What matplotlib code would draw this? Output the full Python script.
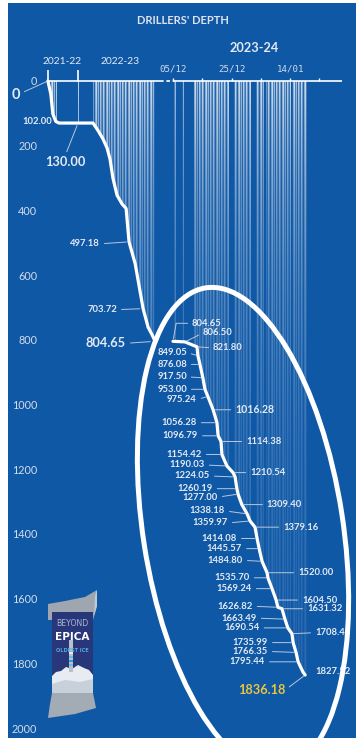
import numpy as np
import matplotlib
matplotlib.use("Agg")
import matplotlib.pyplot as plt
from matplotlib.patches import Ellipse, Polygon, Rectangle, PathPatch
from matplotlib.path import Path

# ---------------- data ----------------
season_names = ["2021-22", "2022-23", "2023-24"]
# where each season begins on the shared (compressed) timeline, in days
season_start = [-42.7, -32.4, 0.0]

days_2122 = [0.0, 1.0, 1.7, 2.7, 3.8]
depth_2122 = [0.0, 40.0, 102.00, 125.0, 130.00]

days_2223 = [0.0, 5.1, 6.8, 8.5, 9.9, 10.9, 11.9, 13.3, 15.0, 16.4,
             17.4, 19.5, 22.2, 23.9, 25.3, 26.3]
depth_2223 = [130.00, 130.0, 153.0, 179.0, 207.0, 241.0, 300.0, 353.0, 380.0, 394.0,
              497.18, 565.0, 703.72, 761.0, 785.0, 804.65]

days_2324 = [0.0, 4.1, 8.2, 8.5, 9.2, 10.2, 10.9, 11.9, 13.7, 15.0,
             15.4, 16.4, 16.7, 18.4, 20.5, 21.2, 21.8, 22.2, 23.5, 25.3,
             26.3, 28.0, 28.7, 29.4, 30.4, 32.1, 32.4, 33.8, 35.2, 35.8,
             37.2, 38.2, 39.2, 40.6, 41.0, 42.0, 42.7, 44.4, 45.1]
depth_2324 = [804.65, 806.50, 821.80, 849.05, 876.08, 917.50, 953.00, 975.24, 1016.28, 1056.28,
              1096.79, 1114.38, 1154.42, 1190.03, 1210.54, 1224.05, 1260.19, 1277.00, 1309.40, 1338.18,
              1359.97, 1379.16, 1414.08, 1445.57, 1484.80, 1520.00, 1535.70, 1569.24, 1604.50, 1626.82,
              1631.32, 1663.49, 1690.54, 1708.48, 1735.99, 1766.35, 1795.44, 1827.52, 1836.18]

# days with drilling runs (season-relative), drawn as thin run lines
runs_2122 = [(0.7, 3.1)]
runs_2223 = [(-0.1, 0.2), (5.1, 26.3)]
runs_2324 = [(0.3, 1.0), (3.1, 3.8), (7.2, 19.1), (20.8, 26.6),
             (28.3, 31.1), (31.7, 40.3), (40.6, 45.7)]

date_ticks = [0, 20, 40]
date_labels = ["05/12", "25/12", "14/01"]
date_minor = [10, 30, 50]
depth_ticks = list(range(0, 2001, 200))

# ---------------- style ----------------
BG = "#0f58a6"
TXT = "#e4eaf3"
LEAD = "#b9c7dd"
GOLD = "#e8c53c"
PX = 0.72  # points per pixel at 100 dpi
FONT = "Lato"

fig = plt.figure(figsize=(3.56, 7.38), dpi=100)
fig.patch.set_facecolor("white")
ax = fig.add_axes([8 / 356, 0, 348 / 356, 735 / 738])
ax.set_facecolor(BG)

x0, x1 = -56.31, 62.46
d_top, d_bot = -241.1, 2030.9
ax.set_xlim(x0, x1)
ax.set_ylim(d_bot, d_top)

for s in ax.spines.values():
    s.set_visible(False)

# depth axis: labels drawn inside the panel
ax.set_yticks(depth_ticks)
ax.set_yticklabels([str(v) for v in depth_ticks], fontfamily=FONT)
ax.tick_params(axis="y", length=0, pad=-21, labelsize=7.8, labelcolor="#d3dcea")

# date axis sits on the surface line
ax.xaxis.set_ticks_position("top")
ax.spines["top"].set_position(("data", 0))
ax.set_xticks(date_ticks)
ax.set_xticklabels(date_labels, fontfamily="DejaVu Sans Mono")
ax.set_xticks(date_minor, minor=True)
ax.tick_params(axis="x", which="both", direction="out", length=2.5, width=1.0,
               color="white", pad=3, labelsize=6.6, labelcolor="#d3dcea")

# ---------------- timeline ----------------
x_2122 = [season_start[0] + d for d in days_2122]
x_2223 = [season_start[1] + d for d in days_2223]
x_2324 = [season_start[2] + d for d in days_2324]

ax.hlines(0, x_2122[0], x_2223[-1] + 1.7, color="white", lw=1.2, zorder=4)
ax.plot([x_2223[-1] + 1.8, season_start[2]], [0, 0], color="white", lw=1.2,
        ls=(0, (2.2, 1.6)), zorder=4)
ax.hlines(0, season_start[2], 57.7, color="white", lw=1.2, zorder=4)
ax.vlines(season_start[:2], -34, 2, color="white", lw=1.2, zorder=4)

# ---------------- run lines (stripes under the curve) ----------------
ncol, nrow = 348, 735
xc = x0 + (np.arange(ncol) + 0.5) * (x1 - x0) / ncol
dc = d_top + (np.arange(nrow) + 0.5) * (d_bot - d_top) / nrow
mask = np.zeros(ncol)
for start, spans in zip(season_start, [runs_2122, runs_2223, runs_2324]):
    for a, b in spans:
        mask[(xc >= start + a) & (xc <= start + b)] = 1.0
weave = np.array([1.0, 0.35, 0.75, 0.15, 0.9, 0.5, 0.25, 0.95, 0.55, 0.1, 0.7])
col_alpha = mask * weave[np.arange(ncol) % len(weave)]
fade = 0.08 + 0.72 * np.exp(-np.clip(dc, 0, None) / 550.0)
rgba = np.ones((nrow, ncol, 4))
rgba[..., 3] = np.outer(fade, col_alpha)
im = ax.imshow(rgba, extent=(x0, x1, d_bot, d_top), origin="upper",
               interpolation="nearest", aspect="auto", zorder=1)

early_x = x_2122 + x_2223
early_d = depth_2122 + depth_2223
vA = [(early_x[0], 0)] + list(zip(early_x, early_d)) + [(early_x[-1], 0), (early_x[0], 0)]
vB = [(x_2324[0], 0)] + list(zip(x_2324, depth_2324)) + [(x_2324[-1] + 0.6, depth_2324[-1]),
                                                        (x_2324[-1] + 0.6, 0), (x_2324[0], 0)]
clip = PathPatch(Path.make_compound_path(Path(vA, closed=True), Path(vB, closed=True)),
                 transform=ax.transData)
im.set_clip_path(clip)

# ---------------- depth curves ----------------
ax.plot(early_x, early_d, color="white", lw=2.3, solid_joinstyle="round",
        solid_capstyle="round", zorder=5)
ax.plot(x_2324, depth_2324, color="white", lw=2.3, solid_joinstyle="round",
        solid_capstyle="round", zorder=5)


# ---------------- value labels ----------------
def label(x, d, text, dx, dy, side, leader=True, size=6.8, color=TXT, conn=None, gapB=1.5,
          ha=None, relpos=None):
    if side == "L":
        h, rp = "right", (1, 0.5)
    elif side == "R":
        h, rp = "left", (0, 0.5)
    else:
        h, rp = "center", (0.5, 1.0)
    ha = ha or h
    rp = relpos or rp
    arrow = None
    if leader:
        arrow = dict(arrowstyle="-", color=LEAD, lw=0.7, shrinkA=1.2, shrinkB=gapB, relpos=rp)
        if conn:
            arrow["connectionstyle"] = conn
    ax.annotate(text, xy=(x, d), xytext=(dx * PX, -dy * PX), textcoords="offset points",
                ha=ha, va="center", fontsize=size, fontweight="bold", color=color,
                fontfamily=FONT, arrowprops=arrow, zorder=6, annotation_clip=False)


layout_2324 = {
    "804.65": ("R", 19, -18), "806.50": ("R", 18, -9), "821.80": ("R", 16, 1),
    "849.05": ("L", -11, -3), "876.08": ("L", -13, 0), "917.50": ("L", -16, -1),
    "953.00": ("L", -18, 0), "975.24": ("L", -11, 3), "1016.28": ("R", 22, 0),
    "1056.28": ("L", -20, 0), "1096.79": ("L", -20, 0), "1114.38": ("R", 25, 0),
    "1154.42": ("L", -20, 0), "1190.03": ("L", -22, -1), "1210.54": ("R", 17, 0),
    "1224.05": ("L", -25, -1), "1260.19": ("L", -24, 0), "1277.00": ("L", -20, 3),
    "1309.40": ("R", 25, 0), "1338.18": ("L", -22, -3), "1359.97": ("L", -22, 2),
    "1379.16": ("R", 28, 0), "1414.08": ("L", -20, 0), "1445.57": ("L", -17, 0),
    "1484.80": ("L", -19, -1), "1520.00": ("R", 31, 0), "1535.70": ("L", -18, 0),
    "1569.24": ("L", -20, 0), "1604.50": ("R", 26, 0), "1626.82": ("L", -25, -1),
    "1631.32": ("R", 25, 0), "1663.49": ("L", -28, -1), "1690.54": ("L", -28, 0),
    "1708.48": ("R", 23, -1), "1735.99": ("L", -25, 0), "1766.35": ("L", -28, -1),
    "1795.44": ("L", -33, 0), "1827.52": ("R", 12, -1), "1836.18": ("L", -20, 15),
}

for x, d in zip(x_2324, depth_2324):
    txt = f"{d:.2f}"
    side, dx, dy = layout_2324[txt]
    if txt == "804.65":
        label(x, d, txt, dx, dy, side, conn="angle,angleA=0,angleB=80,rad=0", gapB=2)
    elif txt == "1827.52":
        label(x, d, txt, dx, dy, side, leader=False)
    elif txt == "1836.18":
        label(x, d, txt, dx, dy, side, size=9.2, color=GOLD)
    elif txt == "1016.28":
        label(x, d, txt, dx, dy, side, size=7.6)
    else:
        label(x, d, txt, dx, dy, side)

# earlier seasons
label(x_2122[0], depth_2122[0], f"{depth_2122[0]:.0f}", -32, 14, "L", size=10.5, gapB=1.0,
      ha="center", relpos=(1.0, 0.6))
label(x_2122[2], depth_2122[2], f"{depth_2122[2]:.2f}", -1, 8, "L", leader=False)
label(x_2223[0], depth_2223[0], f"{depth_2223[0]:.2f}", -13, 39, "C", size=9.2, gapB=2)
label(x_2223[10], depth_2223[10], f"{depth_2223[10]:.2f}", -29, 2, "L", gapB=2)
label(x_2223[12], depth_2223[12], f"{depth_2223[12]:.2f}", -26, 1, "L", gapB=2.5)
label(x_2223[15], depth_2223[15], f"{depth_2223[15]:.2f}", -29, 2, "L", size=9.2, gapB=3.5)

# season headings and title
ax.text(season_start[0] + 4.8, -59, season_names[0], ha="center", va="center",
        fontsize=7.4, color=TXT, fontfamily=FONT)
ax.text(season_start[1] + 14.2, -59, season_names[1], ha="center", va="center",
        fontsize=7.4, color=TXT, fontfamily=FONT)
ax.text(season_start[2] + 27.6, -102, season_names[2], ha="center", va="center",
        fontsize=9.2, fontweight="bold", color=TXT, fontfamily=FONT)
fig.text(183 / 356, 1 - 20 / 738, "DRILLERS' DEPTH", ha="center", va="center",
         fontsize=8, fontweight="bold", color="#dbe3ee", fontfamily=FONT)

# highlight around the 2023-24 season
ax.add_patch(Ellipse((2.43, 2.09), 2.00, 4.88, angle=8.8, transform=fig.dpi_scale_trans,
                     fill=False, ec="white", lw=3.6, zorder=7))

# ---------------- project logo ----------------
lg = fig.add_axes([45 / 356, 18 / 738, 55 / 356, 135 / 738])
lg.set_xlim(0, 55)
lg.set_ylim(0, 135)
lg.axis("off")
lg.add_patch(Polygon([(3, 100), (3, 116), (20, 119), (40, 123), (52, 130), (52, 114), (48, 100)],
                     closed=True, fc="#9ea6b0", ec="none"))
lg.add_patch(Polygon([(49, 104), (52, 114), (52, 130), (50, 124)], closed=True, fc="#c3c9d0", ec="none"))
lg.add_patch(Rectangle((7, 27), 41, 81, fc="#27377a", ec="none"))
lg.add_patch(Polygon([(3, 2), (5, 16), (7, 27), (48, 27), (51, 12), (30, 6)],
                     closed=True, fc="#a3abb4", ec="none"))
lg.add_patch(Polygon([(7, 27), (7, 44), (11, 48), (16, 49), (21, 53), (27, 51), (33, 55),
                      (39, 52), (44, 50), (48, 45), (48, 27)], closed=True, fc="#e6ecf2", ec="none"))
lg.add_patch(Polygon([(7, 27), (7, 36), (20, 40), (35, 38), (48, 41), (48, 27)],
                     closed=True, fc="#c8d0d9", ec="none"))
lg.add_patch(Rectangle((23.5, 48), 4.5, 32, fc="#b9c2cc", ec="none"))
for yb, c in [(54, "#5fc3e8"), (58, "#2aa0d8"), (62, "#5fc3e8"), (66, "#e6ecf2")]:
    lg.add_patch(Rectangle((23.5, yb), 4.5, 2.2, fc=c, ec="none"))
lg.text(27.5, 97, "BEYOND", ha="center", va="center", fontsize=5.6, color="#aab6d3",
        fontfamily="DejaVu Sans")
lg.text(27.5, 83, "EPICA", ha="center", va="center", fontsize=7.6, fontweight="bold",
        color="white", fontfamily="DejaVu Sans")
lg.text(27.5, 70, "OLDEST ICE", ha="center", va="center", fontsize=3.6, fontweight="bold",
        color="#58a9dc", fontfamily="DejaVu Sans")

fig.savefig("out.png", dpi=100, facecolor=fig.get_facecolor())
